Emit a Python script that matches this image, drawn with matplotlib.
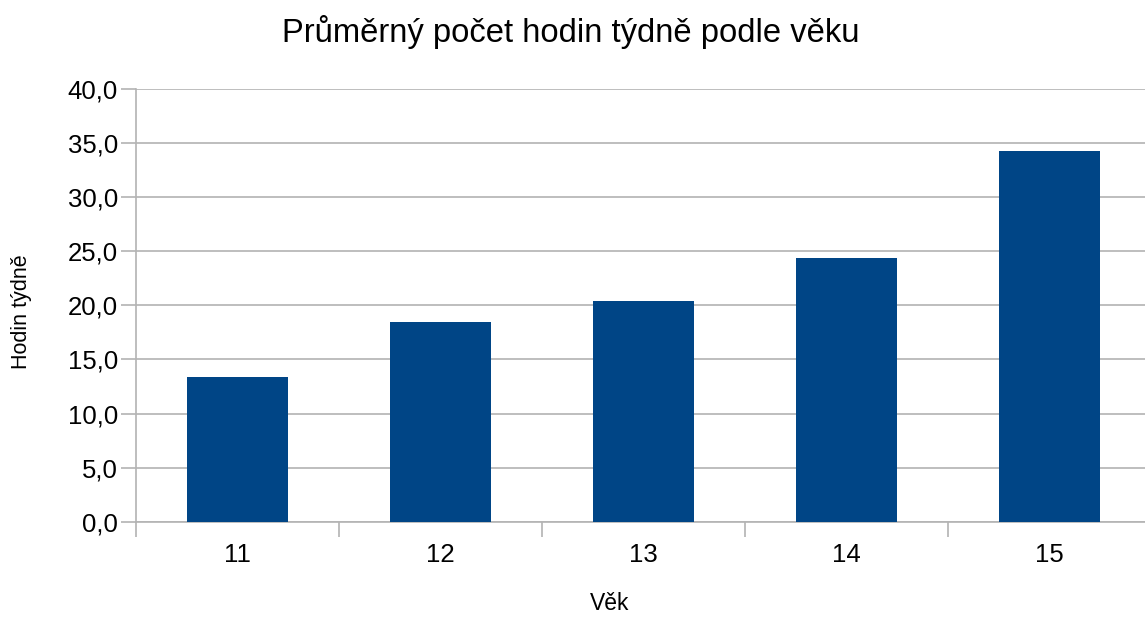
import numpy as np
import matplotlib
matplotlib.use("Agg")
import matplotlib.pyplot as plt
from matplotlib.ticker import FuncFormatter

# Data
ages = ["11", "12", "13", "14", "15"]
hours = [13.4, 18.5, 20.4, 24.4, 34.3]

plt.rcParams['font.family'] = ['Liberation Sans', 'DejaVu Sans']

W, H = 1145, 617
fig = plt.figure(figsize=(W / 100, H / 100), dpi=100)
# plot area runs a little past the right edge, like the original export
ax = fig.add_axes([136 / W, 1 - 521.7 / H, 1015 / W, (521.7 - 89) / H])

x = np.arange(len(ages))
ax.bar(x, hours, width=0.5, color="#004586", zorder=3)

ax.set_xlim(-0.5, len(ages) - 0.5)
ax.set_ylim(0, 40)
ax.set_yticks(np.arange(0, 41, 5))
ax.yaxis.set_major_formatter(FuncFormatter(lambda v, p: f"{v:.1f}".replace(".", ",")))
ax.set_xticks(x)
ax.set_xticklabels(ages)
ax.set_xticks(np.arange(-0.5, len(ages), 1), minor=True)

grid_col = "#b3b3b3"
ax.grid(axis="y", color=grid_col, linewidth=1.2, zorder=0)
for s in ["top", "right"]:
    ax.spines[s].set_visible(False)
ax.spines["left"].set_color(grid_col)
ax.spines["bottom"].set_color(grid_col)
ax.spines["left"].set_linewidth(1.2)
ax.spines["bottom"].set_linewidth(1.2)

ax.tick_params(axis="y", length=11, color=grid_col, width=1.2, labelsize=18.5, pad=2)
ax.tick_params(axis="x", which="major", length=0, labelsize=18.5, pad=15)
ax.tick_params(axis="x", which="minor", length=11, color=grid_col, width=1.2)

# axis titles placed where the original has them
fig.text(610 / W, 1 - 604 / H, "Věk", fontsize=16.5, ha="center", va="center")
fig.text(22 / W, 1 - 312 / H, "Hodin týdně", fontsize=15.5, ha="center", va="center",
         rotation=90)
fig.text(571 / W, 1 - 32 / H, "Průměrný počet hodin týdně podle věku", fontsize=23.6,
         ha="center", va="center")

fig.savefig("out.png", dpi=100)
